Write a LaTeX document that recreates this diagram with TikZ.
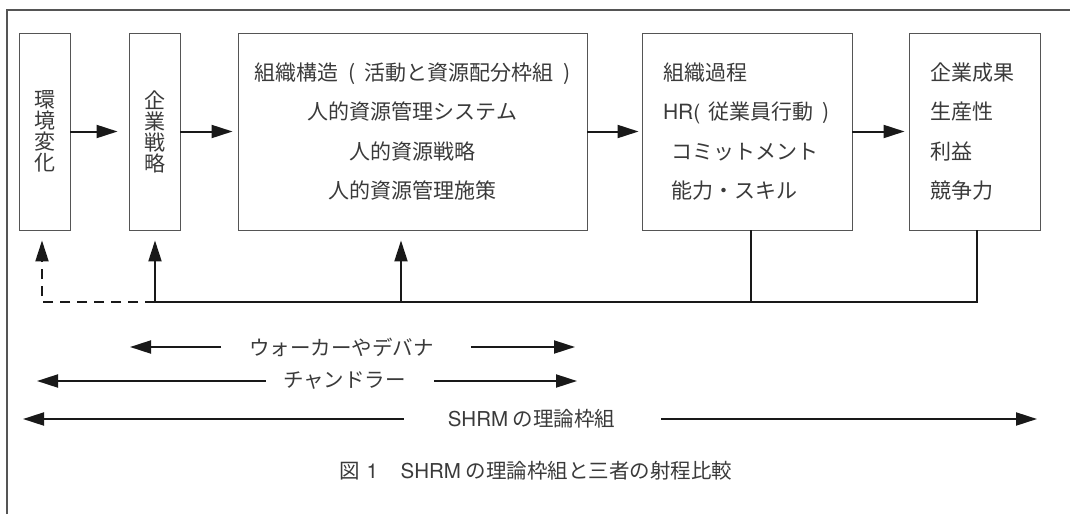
\documentclass[tikz,border=0pt]{standalone}
\usepackage{fontspec}
\setmainfont{Noto Sans CJK JP}
\newfontfamily\latfont{TeX Gyre Heros}
\newcommand{\lat}[1]{{\latfont #1}}
\usetikzlibrary{arrows.meta}
\definecolor{boxgray}{HTML}{555555}
\definecolor{txtgray}{HTML}{3A3A3A}
\tikzset{
	box/.style={draw=boxgray, line width=0.9pt, inner sep=0pt, text=txtgray, font=\fontsize{21}{39.5}\selectfont},
	arr/.style={line width=2pt, color=black!90, -{Triangle[length=21pt,width=13pt]}},
	fbline/.style={line width=2pt, color=black!90},
	fbdash/.style={line width=2.2pt, color=black!90, dash pattern=on 10pt off 7pt},
	lbl/.style={text=txtgray, font=\fontsize{20.5}{24}\selectfont, inner sep=0pt}
}

\begin{document}
\begin{tikzpicture}[x=1pt,y=-1pt]
		%%%%% START %%%%%
		\useasboundingbox (0,0) rectangle (1070,514);
		\draw[line width=1.2pt, color=boxgray] (7,514) -- (7,10) -- (1070,10);
		
		% boxes
		\node[box, minimum width=51pt, minimum height=197pt, font=\fontsize{21}{21}\selectfont, align=center] (env) at (44.5,131.5) {環\\境\\変\\化};
		\node[box, minimum width=51pt, minimum height=197pt, font=\fontsize{21}{21}\selectfont, align=center] (strat) at (154.5,131.5) {企\\業\\戦\\略};
		\node[box, minimum width=349pt, minimum height=197pt, align=center] (org) at (412.5,131.5) {組織構造\hspace{0.45em}(\hspace{0.45em}活動と資源配分枠組\hspace{0.45em})\\人的資源管理システム\\人的資源戦略\\人的資源管理施策};
		\node[box, minimum width=210pt, minimum height=197pt, inner xsep=21pt, text width=168pt, align=left] (proc) at (747,131.5) {組織過程\\\lat{HR(}\hspace*{0.4em}従業員行動\hspace*{0.4em})\\\hspace*{8pt}コミットメント\\\hspace*{8pt}能力・スキル};
		\node[box, minimum width=131pt, minimum height=197pt, inner xsep=21pt, text width=89pt, align=left] (res) at (974.5,131.5) {企業成果\\生産性\\利益\\競争力};
		
		\draw[arr, shorten >=11pt] (env.east) -- (strat.west);
		\draw[arr, shorten >=5pt] (strat.east) -- (org.west);
		\draw[arr, shorten >=3pt] (org.east) -- (proc.west);
		\draw[arr, shorten >=4pt] (proc.east) -- (res.west);
		
		% feedback
		\coordinate (p1) at (42,302);
		\coordinate (p2) at (155,302);
		\coordinate (p3) at (401,302);
		\coordinate (p4) at (751,302);
		\coordinate (p5) at (977,302);
		\coordinate (p1a) at (42,262);
		\draw[fbline] (res.south -| p5) -- (p5) -- (p2);
		\draw[fbline] (proc.south -| p4) -- (p4);
		\draw[arr, shorten >=10pt] (p2) -- (strat.south -| p2);
		\draw[arr, shorten >=10pt] (p3) -- (org.south -| p3);
		\draw[fbdash] (p2) -- (p1) -- (p1a);
		\draw[arr, shorten >=10pt] (p1a) -- (env.south -| p1);
		
		% ranges
		\node[lbl] (wlk) at (341.5,347) {ウォーカーやデバナ};
		\coordinate (wlkL) at (130,347);
		\coordinate (wlkR) at (575,347);
		\draw[arr, shorten <=28pt] (wlk.west) -- (wlkL);
		\draw[arr, shorten <=37pt] (wlk.east) -- (wlkR);
		
		\node[lbl] (chd) at (344.5,381) {チャンドラー};
		\coordinate (chdL) at (37,381);
		\coordinate (chdR) at (577,381);
		\draw[arr, shorten <=17pt] (chd.west) -- (chdL);
		\draw[arr, shorten <=28pt] (chd.east) -- (chdR);
		
		\node[lbl] (shrm) at (531.5,419) {\lat{SHRM} の理論枠組};
		\coordinate (shrmL) at (23,419);
		\coordinate (shrmR) at (1037,419);
		\draw[arr, shorten <=44pt] (shrm.west) -- (shrmL);
		\draw[arr, shorten <=46pt] (shrm.east) -- (shrmR);
		
		\node[lbl] (cap) at (536,471) {図\hspace{0.3em}\lat{1}\hspace{1.1em}\lat{SHRM} の理論枠組と三者の射程比較};
		%%%%% END %%%%%
	\end{tikzpicture}
\end{document}
